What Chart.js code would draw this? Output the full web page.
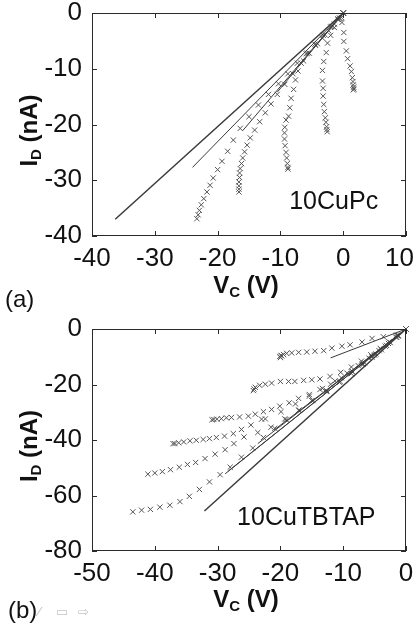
<!DOCTYPE html>
<html>
<head>
<meta charset="utf-8">
<script src="https://cdn.jsdelivr.net/npm/chart.js@4.4.1/dist/chart.umd.min.js"></script>
<style>
  html, body { margin: 0; padding: 0; background: #fff; }
  .panel { position: relative; width: 416px; height: 314px; }
</style>
</head>
<body>
<div class="panel"><canvas id="chartA" width="416" height="314"></canvas></div>
<div class="panel"><canvas id="chartB" width="416" height="314"></canvas></div>
<script>
// (a) 10CuPc sweeps, [V_C (V), I_D (nA)]
const cupcSweep1 = [[0, 0], [-0.9, -1.1], [-2.0, -2.5], [-3.2, -4.0], [-4.5, -5.6], [-5.9, -7.3], [-7.3, -9.0],
  [-8.8, -10.9], [-10.3, -12.7], [-11.9, -14.6], [-13.5, -16.5], [-15.0, -18.6], [-16.4, -20.7], [-17.5, -22.8],
  [-18.4, -24.8], [-19.3, -26.6], [-20.0, -28.1], [-20.7, -29.6], [-21.2, -30.9], [-21.7, -32.1], [-22.2, -33.3],
  [-22.6, -34.4], [-22.9, -35.4], [-23.1, -36.2], [-23.3, -36.9]];
const cupcSweep2 = [[0, 0], [-0.8, -1.1], [-1.8, -2.4], [-2.9, -3.9], [-4.1, -5.5], [-5.4, -7.2], [-6.7, -9.0],
  [-8.0, -10.9], [-9.3, -12.8], [-10.5, -14.6], [-11.5, -16.3], [-12.4, -17.9], [-13.3, -19.5], [-14.1, -21.0],
  [-14.8, -22.4], [-15.3, -23.7], [-15.7, -24.9], [-16.0, -26.0], [-16.2, -27.0], [-16.4, -27.9], [-16.5, -28.7],
  [-16.5, -29.5], [-16.6, -30.3], [-16.6, -31.0], [-16.6, -31.6], [-16.6, -32.1]];
const cupcSweep3 = [[0, 0], [-0.6, -0.9], [-1.4, -2.0], [-2.3, -3.2], [-3.3, -4.5], [-4.4, -5.8], [-5.7, -7.2],
  [-6.3, -8.6], [-7.2, -10.4], [-7.6, -12.0], [-7.9, -13.7], [-8.3, -15.3], [-8.5, -17.0], [-8.7, -18.5],
  [-9.1, -19.2], [-9.3, -20.5], [-9.35, -21.5], [-9.35, -22.6], [-9.25, -23.8], [-9.1, -25.0], [-9.0, -26.0],
  [-8.9, -27.0], [-8.8, -27.7], [-8.8, -28.0]];
const cupcSweep4 = [[0, 0], [-0.5, -1.0], [-1.4, -2.6], [-2.0, -4.0], [-2.5, -5.4], [-2.7, -7.1], [-3.1, -8.7],
  [-3.3, -10.3], [-3.3, -12.2], [-3.2, -13.5], [-3.2, -14.9], [-3.1, -16.4], [-3.0, -17.7], [-2.85, -18.8],
  [-2.75, -19.6], [-2.65, -20.4], [-2.6, -20.9], [-2.55, -21.3]];
const cupcSweep5 = [[0, 0], [-0.3, -0.8], [-0.2, -1.7], [0.1, -3.5], [0.1, -5.1], [0.5, -6.8], [0.7, -8.2],
  [1.1, -9.5], [1.3, -10.5], [1.45, -11.6], [1.55, -12.3], [1.6, -12.9], [1.65, -13.3], [1.7, -13.6], [1.6, -13.8]];
const cupcFits = [[-36.3, -37.0], [-24.0, -27.7], [-16.0, -21.1], [-10.5, -14.2]];

// (b) 10CuTBTAP sweeps
const tbtapSweep1 = [[0, 0], [-1.5, -2.2], [-3.6, -2.8], [-5.4, -3.4], [-7.0, -4.7], [-8.9, -5.7], [-10.2, -6.2],
  [-11.8, -6.9], [-13.1, -7.8], [-14.5, -8.0], [-15.8, -8.3], [-17.1, -8.4], [-18.2, -8.6], [-19.0, -8.8],
  [-19.5, -9.2], [-19.9, -9.5], [-20.1, -9.9], [-20.0, -10.3], [-19.8, -9.7]];
const tbtapSweep2 = [[0, 0], [-1.3, -2.3], [-2.7, -4.6], [-4.1, -7.0], [-5.6, -9.3], [-7.1, -11.6], [-8.7, -13.7],
  [-10.4, -15.6], [-12.1, -17.1], [-13.7, -18.0], [-15.0, -18.3], [-16.3, -18.5], [-17.7, -18.9], [-18.7, -18.9],
  [-20.0, -18.9], [-21.4, -19.5], [-22.4, -19.9], [-23.3, -20.3], [-24.0, -21.0], [-24.2, -21.6], [-24.3, -22.2]];
const tbtapSweep3 = [[0, 0], [-1.2, -2.4], [-2.5, -4.9], [-3.9, -7.5], [-5.4, -10.1], [-7.0, -12.7], [-8.6, -15.2],
  [-10.3, -17.6], [-12.0, -19.9], [-13.7, -21.8], [-15.4, -23.6], [-17.1, -25.0], [-18.6, -26.6], [-20.1, -27.8],
  [-21.4, -29.0], [-22.7, -29.8], [-24.0, -30.7], [-25.1, -31.4], [-26.5, -31.7], [-27.8, -31.9], [-28.6, -32.0],
  [-29.4, -32.3], [-30.1, -32.5], [-30.6, -32.6], [-30.9, -32.7]];
const tbtapSweep4 = [[0, 0], [-1.3, -2.5], [-2.8, -5.2], [-4.3, -7.8], [-5.9, -10.5], [-7.6, -13.2], [-9.4, -15.9],
  [-11.3, -18.7], [-13.3, -21.4], [-15.4, -24.2], [-17.6, -27.0], [-19.9, -29.8], [-22.4, -32.4], [-23.0, -32.5],
  [-24.7, -34.6], [-26.2, -36.2], [-27.5, -37.7], [-28.9, -38.6], [-30.2, -39.1], [-31.3, -39.5], [-32.3, -39.8],
  [-33.4, -40.1], [-34.4, -40.3], [-35.4, -40.7], [-36.2, -41.0], [-36.8, -41.3], [-37.1, -41.3]];
const tbtapSweep5 = [[0, 0], [-1.5, -2.9], [-3.1, -5.9], [-4.8, -9.0], [-6.6, -12.2], [-8.5, -15.5], [-10.5, -18.9],
  [-12.6, -22.3], [-14.8, -25.8], [-17.0, -29.2], [-19.3, -32.4], [-21.5, -35.4], [-23.6, -37.3], [-25.8, -38.9],
  [-27.4, -41.3], [-28.8, -43.5], [-30.4, -45.1], [-32.0, -46.7], [-33.5, -48.1], [-34.8, -48.8], [-36.1, -49.8],
  [-37.5, -50.7], [-38.8, -51.4], [-40.0, -51.9], [-41.1, -52.3]];
const tbtapSweep6 = [[0, 0], [-1.6, -3.0], [-3.3, -6.2], [-5.0, -9.4], [-6.8, -12.7], [-8.7, -16.1], [-10.6, -19.2],
  [-12.7, -22.5], [-15.0, -25.8], [-17.1, -29.3], [-19.1, -32.6], [-20.9, -35.8], [-22.7, -39.1], [-24.4, -42.9],
  [-26.2, -46.2], [-28.0, -49.8], [-29.6, -52.5], [-31.3, -55.1], [-32.9, -57.8], [-34.5, -60.3], [-36.0, -62.2],
  [-37.6, -63.5], [-39.2, -64.2], [-40.7, -65.0], [-42.1, -65.3], [-43.5, -65.9]];
const tbtapFits = [[-32.1, -65.6], [-28.8, -52.2], [-28.3, -51.2], [-23.6, -41.3], [-21.0, -36.4], [-12.0, -10.4]];

const FONT = '"Liberation Sans", Arial, sans-serif';

const toPts = (arr) => arr.map(([x, y]) => ({ x, y }));

// frame, inward ticks, axis titles with subscripts, panel labels
const decorPlugin = {
  id: 'decor',
  afterDraw(chart, args, o) {
    const { ctx, chartArea: a, scales: { x, y } } = chart;
    ctx.save();
    ctx.strokeStyle = '#2a2a2a';
    ctx.lineWidth = 1;
    ctx.strokeRect(Math.round(a.left) + 0.5, Math.round(a.top) + 0.5,
      Math.round(a.width) - 1, Math.round(a.height) - 1);
    ctx.beginPath();
    x.ticks.forEach((t) => {
      const px = Math.round(x.getPixelForValue(t.value)) + 0.5;
      ctx.moveTo(px, a.bottom); ctx.lineTo(px, a.bottom - 5);
      ctx.moveTo(px, a.top); ctx.lineTo(px, a.top + 5);
    });
    y.ticks.forEach((t) => {
      const py = Math.round(y.getPixelForValue(t.value)) + 0.5;
      ctx.moveTo(a.left, py); ctx.lineTo(a.left + 5, py);
      ctx.moveTo(a.right, py); ctx.lineTo(a.right - 5, py);
    });
    ctx.stroke();

    ctx.fillStyle = '#111';
    ctx.textBaseline = 'middle';

    // draws main + subscript + rest, centred on (0, 0)
    const subText = (main, sub, rest) => {
      const big = 'bold 24px ' + FONT, small = 'bold 15px ' + FONT;
      ctx.font = big; const w1 = ctx.measureText(main).width, w3 = ctx.measureText(rest).width;
      ctx.font = small; const w2 = ctx.measureText(sub).width;
      let cx = -(w1 + w2 + w3) / 2;
      ctx.textAlign = 'left';
      ctx.font = big; ctx.fillText(main, cx, 0); cx += w1;
      ctx.font = small; ctx.fillText(sub, cx, 7); cx += w2;
      ctx.font = big; ctx.fillText(rest, cx, 0);
    };

    ctx.save();
    ctx.translate((a.left + a.right) / 2 - 3, 286);
    subText('V', 'C', ' (V)');
    ctx.restore();

    ctx.save();
    ctx.translate(30, (a.top + a.bottom) / 2 + 6);
    ctx.rotate(-Math.PI / 2);
    subText('I', 'D', ' (nA)');
    ctx.restore();

    ctx.textAlign = 'left';
    ctx.font = '25px ' + FONT;
    ctx.fillText(o.sample, x.getPixelForValue(o.sampleAt[0]), y.getPixelForValue(o.sampleAt[1]));

    ctx.font = '24px ' + FONT;
    ctx.fillText(o.panel, o.panelAt[0], o.panelAt[1]);
    if (o.icons) {
      ctx.fillStyle = '#c4c4c4';
      ctx.font = '13px "DejaVu Sans"';
      ctx.fillText('⁄', 38, o.panelAt[1] + 2);
      ctx.fillText('▭', 56, o.panelAt[1] + 2);
      ctx.fillText('⇨', 78, o.panelAt[1] + 2);
    }
    ctx.restore();
  }
};

function makePanel(id, sweeps, fits, xr, yr, top, xh, decor) {
  const datasets = [];
  fits.forEach(([ex, ey], i) => {
    datasets.push({
      type: 'line',
      data: [{ x: 0, y: 0 }, { x: ex, y: ey }],
      borderColor: '#3a3a3a',
      borderWidth: i === 0 ? 1.5 : 1,
      pointRadius: 0,
      fill: false,
      clip: false
    });
  });
  sweeps.forEach((s) => {
    datasets.push({
      type: 'scatter',
      data: toPts(s),
      pointStyle: 'crossRot',
      pointRadius: 3.7,
      borderColor: '#555',
      borderWidth: 1,
      clip: false
    });
  });

  const tickFont = { family: FONT, size: 26 };
  return new Chart(document.getElementById(id), {
    type: 'scatter',
    data: { datasets },
    options: {
      responsive: false,
      animation: false,
      layout: { padding: { top, right: 10, left: 0, bottom: 0 } },
      scales: {
        x: {
          type: 'linear', min: xr[0], max: xr[1],
          grid: { display: false, drawTicks: false },
          border: { display: false },
          ticks: {
            stepSize: 10, padding: 7, color: '#111', font: tickFont, maxRotation: 0,
            // the right-most "10" sits a little inside the page edge
            callback: (v) => (v === 10 ? '10\u2002' : String(v))
          },
          afterFit: (s) => { s.height = xh; s.paddingLeft = 0; s.paddingRight = 0; }
        },
        y: {
          type: 'linear', min: yr[0], max: yr[1],
          grid: { display: false, drawTicks: false },
          border: { display: false },
          ticks: { stepSize: yr[1] - yr[0] === 40 ? 10 : 20, padding: 10, color: '#111', font: tickFont },
          afterFit: (s) => { s.width = 92; s.paddingTop = 0; s.paddingBottom = 0; }
        }
      },
      plugins: {
        legend: { display: false },
        tooltip: { enabled: false },
        decor
      }
    },
    plugins: [decorPlugin]
  });
}

makePanel('chartA',
  [cupcSweep1, cupcSweep2, cupcSweep3, cupcSweep4, cupcSweep5], cupcFits,
  [-40, 10], [-40, 0], 13, 78,
  { sample: '10CuPc', sampleAt: [-8.6, -34.0], panel: '(a)', panelAt: [5, 300], icons: false });

makePanel('chartB',
  [tbtapSweep1, tbtapSweep2, tbtapSweep3, tbtapSweep4, tbtapSweep5, tbtapSweep6], tbtapFits,
  [-50, 0], [-80, 0], 15, 77,
  { sample: '10CuTBTAP', sampleAt: [-26.9, -68.2], panel: '(b)', panelAt: [8, 297], icons: true });
</script>
</body>
</html>
